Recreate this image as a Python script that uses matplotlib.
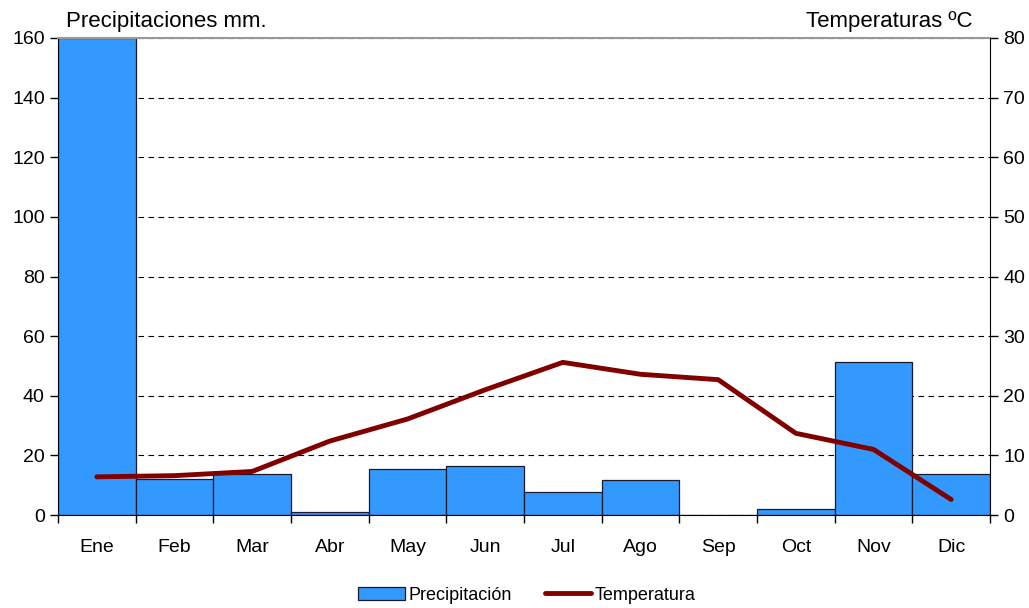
import numpy as np
import matplotlib.pyplot as plt

plt.rcParams['font.family'] = ['Liberation Sans', 'DejaVu Sans']

meses = ['Ene', 'Feb', 'Mar', 'Abr', 'May', 'Jun', 'Jul', 'Ago', 'Sep', 'Oct', 'Nov', 'Dic']
precip = [160, 12.1, 13.7, 0.9, 15.3, 16.5, 7.8, 11.7, 0, 1.9, 51.4, 13.6]
temp = [6.4, 6.6, 7.3, 12.4, 16.1, 21.0, 25.6, 23.6, 22.7, 13.7, 11.0, 2.6]

fig = plt.figure(figsize=(10.29, 6.08), dpi=100)
ax = fig.add_axes([58/1029, 93/608, 932/1029, 477/608])
x = np.arange(len(meses))

ax.bar(x, precip, width=1.0, color='#3399ff', edgecolor='#1a1a2e', linewidth=0.9,
       label='Precipitación', zorder=2)
ax.set_xlim(-0.5, 11.5)
ax.set_ylim(0, 160)
ax.set_yticks(range(0, 161, 20))
ax.yaxis.grid(True, linestyle=(0, (5, 4)), color='black', linewidth=0.8, zorder=0)
ax.set_axisbelow(True)

# ticks at bar boundaries, labels centred
ax.set_xticks(np.arange(-0.5, 12, 1))
ax.set_xticklabels([])
ax.set_xticks(x, minor=True)
ax.set_xticklabels(meses, minor=True)
ax.tick_params(axis='x', which='major', length=6, direction='out', width=1)
ax.tick_params(axis='x', which='minor', length=0, pad=17, labelsize=14)
ax.tick_params(axis='y', length=6, width=1, labelsize=14)

for s in ['left', 'bottom']:
    ax.spines[s].set_color('black')
ax.spines['top'].set_color('#999999')
ax.spines['top'].set_linewidth(1.5)
ax.spines['right'].set_visible(False)

ax2 = ax.twinx()
ax2.plot(x, temp, color='#800000', linewidth=3.5, solid_capstyle='round',
         solid_joinstyle='round', label='Temperatura', zorder=3)
ax2.set_ylim(0, 80)
ax2.set_yticks(range(0, 81, 10))
ax2.tick_params(axis='y', length=6, width=1, labelsize=14)
ax2.spines['right'].set_color('black')
ax2.spines['top'].set_visible(False)
ax2.spines['left'].set_visible(False)
ax2.spines['bottom'].set_visible(False)

fig.text(66/1029, 1 - 21/608, 'Precipitaciones mm.', fontsize=16, va='center', ha='left')
fig.text(972/1029, 1 - 21/608, 'Temperaturas ºC', fontsize=16, va='center', ha='right')

h1, l1 = ax.get_legend_handles_labels()
h2, l2 = ax2.get_legend_handles_labels()
fig.legend(h1 + h2, l1 + l2, loc='center', bbox_to_anchor=(527/1029, 1 - 595/608),
           ncol=2, frameon=False, fontsize=13, handlelength=2.6, handletextpad=0.2,
           columnspacing=1.8)

fig.savefig('out.png', dpi=100)
